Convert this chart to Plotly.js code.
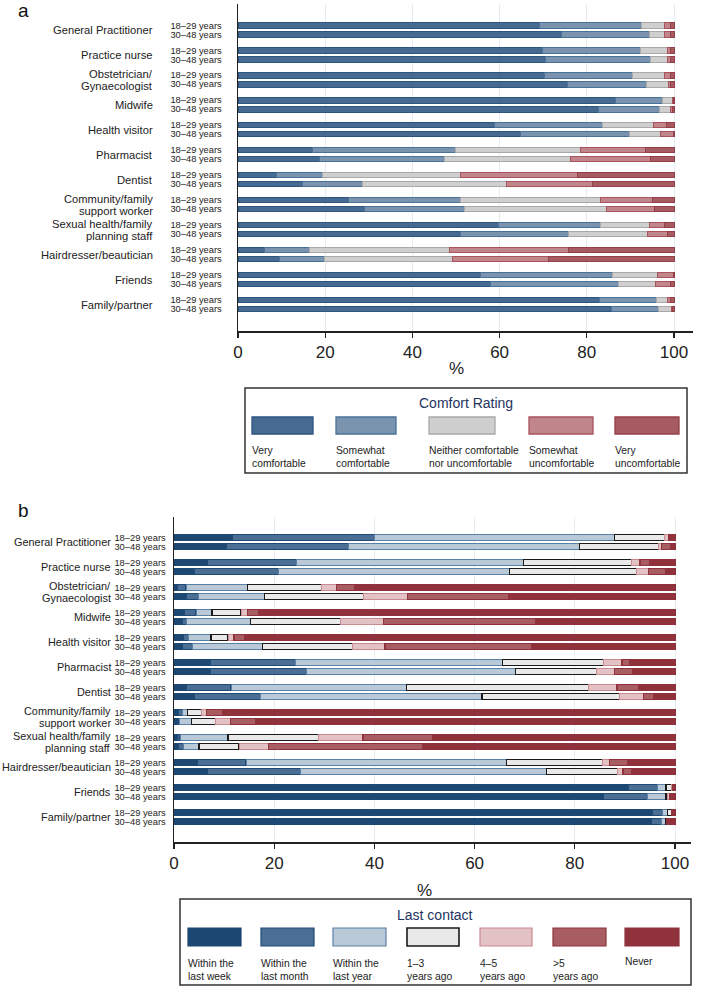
<!DOCTYPE html>
<html>
<head>
<meta charset="utf-8">
<script src="https://cdn.plot.ly/plotly-3.0.1.min.js"></script>
<style>
html,body{margin:0;padding:0;background:#fff;}
#chart{width:705px;height:986px;}
</style>
</head>
<body>
<div id="chart"></div>
<script>
// ---------------- DATA ----------------
const categories = ["General Practitioner", "Practice nurse", "Obstetrician/<br>Gynaecologist", "Midwife",
  "Health visitor", "Pharmacist", "Dentist", "Community/family<br>support worker",
  "Sexual health/family<br>planning staff", "Hairdresser/beautician", "Friends", "Family/partner"];
const ageGroups = ["18–29 years", "30–48 years"];

// Panel a: comfort rating (%), order: each category → [18–29, 30–48]
const comfortLabels = ["Very<br>comfortable", "Somewhat<br>comfortable", "Neither comfortable<br>nor uncomfortable",
  "Somewhat<br>uncomfortable", "Very<br>uncomfortable"];
const veryComfortable = [69.2,74.1, 69.9,70.6, 70.4,75.5, 86.5,82.6, 58.8,64.7, 17.1,18.6, 8.9,14.8, 25.4,29.0, 59.7,51.1, 6.0,9.5, 55.6,57.8, 82.9,85.7];
const somewhatComfortable = [23.4,20.3, 22.5,24.0, 20.0,18.1, 10.9,14.0, 24.8,25.0, 32.8,28.8, 10.4,13.8, 25.6,23.0, 23.5,24.8, 10.4,10.4, 30.2,29.5, 13.0,10.8];
const neitherComfortable = [5.2,3.5, 6.1,3.9, 7.5,5.1, 2.3,2.7, 11.8,7.1, 28.7,28.8, 31.8,33.0, 32.2,32.6, 11.1,18.0, 32.2,29.3, 10.3,8.4, 2.5,2.9];
const somewhatUncomfortable = [1.3,1.3, 0.6,0.6, 1.2,0.6, 0.2,0.4, 2.9,3.0, 14.9,18.4, 26.8,19.7, 11.8,11.0, 3.5,4.6, 27.1,22.0, 3.7,3.5, 0.8,0.2];
const veryUncomfortable = [0.9,0.8, 0.9,0.9, 0.9,0.7, 0.1,0.3, 1.7,0.2, 6.5,5.4, 22.1,18.7, 5.0,4.4, 2.2,1.5, 24.3,28.8, 0.2,0.8, 0.8,0.4];

// Panel b: last contact (%)
const contactLabels = ["Within the<br>last week", "Within the<br>last month", "Within the<br>last year",
  "1–3<br>years ago", "4–5<br>years ago", ">5<br>years ago", "Never"];
const lastWeek  = [11.7,10.4, 6.7,4.0, 0.7,2.5, 2.0,1.7, 1.9,1.7, 7.2,7.3, 2.5,4.1, 0.9,0.8, 0.7,0.9, 4.7,6.7, 90.7,85.7, 95.5,95.3];
const lastMonth = [28.3,24.5, 17.8,16.8, 1.7,2.4, 2.4,0.8, 1.0,2.0, 17.1,19.2, 8.9,13.2, 0.8,0.3, 0.5,1.0, 9.7,18.6, 5.8,8.8, 2.0,2.0];
const lastYear  = [47.9,46.0, 45.2,46.1, 12.2,13.1, 3.2,12.7, 4.5,13.9, 41.2,41.6, 35.0,44.2, 1.0,2.4, 9.6,3.1, 51.9,49.0, 1.7,3.7, 1.0,0.8];
const years1to3 = [10.1,15.8, 21.7,25.4, 14.9,19.8, 5.8,18.1, 3.4,18.1, 20.3,16.3, 36.4,27.5, 2.8,4.8, 18.0,8.0, 19.2,14.2, 1.1,0.3, 0.8,0.2];
const years4to5 = [0.8,0.6, 1.6,2.4, 3.0,8.8, 1.2,8.5, 1.2,6.4, 3.6,3.5, 5.6,4.7, 1.0,3.0, 8.9,5.8, 1.4,1.1, 0.2,0.5, 0.1,0.1];
const yearsOver5 = [0.2,1.9, 2.0,3.4, 3.6,20.1, 2.2,30.3, 2.2,29.2, 1.6,3.6, 4.3,2.0, 3.2,4.9, 13.9,30.8, 3.6,1.8, 0.1,0.3, 0.1,0.1];
const never     = [1.0,0.8, 5.0,1.9, 63.9,33.3, 83.2,27.9, 85.8,28.7, 9.0,8.5, 7.3,4.3, 90.3,83.8, 48.4,50.4, 9.5,8.6, 0.4,0.7, 0.5,1.5];

const xTicks = [0, 20, 40, 60, 80, 100];

// ---------------- STYLE ----------------
const W = 705, H = 986;
const px = x => x / W;
const py = y => 1 - y / H;
const FONT = "Liberation Sans, Arial, Helvetica, sans-serif";
const GROUP = 25, SUB = 9;

const rowY = [], rowText = [];
categories.forEach((c, g) => ageGroups.forEach((a, s) => { rowY.push(g * GROUP + s * SUB); rowText.push(a); }));

const comfortSeries = [veryComfortable, somewhatComfortable, neitherComfortable, somewhatUncomfortable, veryUncomfortable];
const comfortFill = ["#476b90", "#7a94af", "#cfcfcf", "#c1868b", "#a65b62"];
const comfortLine = ["#2c5580", "#4a7198", "#a9a9a9", "#a9535d", "#953f49"];

const contactSeries = [lastWeek, lastMonth, lastYear, years1to3, years4to5, yearsOver5, never];
const contactFill = ["#1c4873", "#4b6f94", "#b9c9d8", "#e9e9e9", "#e3c2c5", "#a85d63", "#8f323c"];
const contactLine = ["#1c4873", "#1f4a76", "#5a80a6", "#1a1a1a", "#c98a90", "#8f323c", "#8f323c"];
const contactLW   = [1, 1.3, 1, 1.3, 1, 1.3, 1];

const traces = [];
comfortSeries.forEach((vals, i) => traces.push({
  type: "bar", orientation: "h", x: vals, y: rowY, width: 5.6, xaxis: "x", yaxis: "y",
  marker: {color: comfortFill[i], line: {color: comfortLine[i], width: 1}},
  showlegend: false, hoverinfo: "skip"
}));
contactSeries.forEach((vals, i) => traces.push({
  type: "bar", orientation: "h", x: vals, y: rowY, width: 5.8, xaxis: "x2", yaxis: "y2",
  marker: {color: contactFill[i], line: {color: contactLine[i], width: contactLW[i]}},
  showlegend: false, hoverinfo: "skip"
}));

const xCommon = {
  showline: true, linecolor: "#222", linewidth: 1.5, ticks: "outside", ticklen: 5, tickwidth: 1.3,
  tickcolor: "#222", tickvals: xTicks, ticktext: xTicks.map(String), showgrid: true, gridcolor: "#e3ecf1",
  gridwidth: 1, zeroline: false, fixedrange: true, tickfont: {family: FONT, size: 17, color: "#222"}
};
const yCommon = {
  showline: true, linecolor: "#222", linewidth: 1.5, ticks: "", showgrid: false, zeroline: false,
  tickvals: rowY, ticktext: rowText, tickfont: {family: FONT, size: 9.3, color: "#222"}, fixedrange: true
};

const layout = {
  width: W, height: H, margin: {l: 0, r: 0, t: 0, b: 0}, paper_bgcolor: "#fff", plot_bgcolor: "#fff",
  barmode: "stack", bargap: 0,
  xaxis: Object.assign({}, xCommon, {domain: [px(238), px(693)], range: [0, (693 - 238) / 4.36], anchor: "y"}),
  yaxis: Object.assign({}, yCommon, {domain: [py(331), py(4)], range: [306, -21.3], anchor: "x", ticklabelstandoff: 13}),
  xaxis2: Object.assign({}, xCommon, {domain: [px(174), px(691)], range: [0, (691 - 174) / 5.01], anchor: "y2"}),
  yaxis2: Object.assign({}, yCommon, {domain: [py(842.3), py(516.7)], range: [305, -20.6], anchor: "x2", ticklabelstandoff: 5}),
  shapes: [], annotations: []
};

// category labels (two-line labels: one line per age row)
function catLabel(axisRef, xRight, size) {
  categories.forEach((c, g) => {
    const lines = c.split("<br>");
    const mid = g * GROUP + SUB / 2;
    lines.forEach((ln, k) => {
      const yy = lines.length === 1 ? mid : mid + (k === 0 ? -6 : 6);
      layout.annotations.push({xref: "paper", yref: axisRef, x: px(xRight), y: yy, text: ln, showarrow: false,
        xanchor: "right", yanchor: "middle", align: "right", font: {family: FONT, size: size, color: "#222"}});
    });
  });
}
catLabel("y", 155, 11.2);
catLabel("y2", 112.5, 10.9);

// panel letters and % titles
layout.annotations.push({xref: "paper", yref: "paper", x: px(16), y: py(10), text: "a", showarrow: false,
  xanchor: "left", yanchor: "middle", font: {family: FONT, size: 19, color: "#111"}});
layout.annotations.push({xref: "paper", yref: "paper", x: px(16), y: py(511), text: "b", showarrow: false,
  xanchor: "left", yanchor: "middle", font: {family: FONT, size: 19, color: "#111"}});
layout.annotations.push({xref: "x", yref: "paper", x: 50, y: py(368), text: "%", showarrow: false,
  yanchor: "middle", font: {family: FONT, size: 17, color: "#222"}});
layout.annotations.push({xref: "x2", yref: "paper", x: 50, y: py(890), text: "%", showarrow: false,
  yanchor: "middle", font: {family: FONT, size: 17, color: "#222"}});

// legends
function legendBox(x0, x1, y0, y1, title, titleY, swX, swY0, swY1, labels, fills, lines, lws, labY) {
  layout.shapes.push({type: "rect", xref: "paper", yref: "paper", x0: px(x0), x1: px(x1), y0: py(y0), y1: py(y1),
    line: {color: "#333", width: 1.5}, fillcolor: "rgba(0,0,0,0)"});
  layout.annotations.push({xref: "paper", yref: "paper", x: px((x0 + x1) / 2), y: py(titleY), text: title,
    showarrow: false, yanchor: "middle", font: {family: FONT, size: 14, color: "#1f3461"}});
  labels.forEach((lab, i) => {
    layout.shapes.push({type: "rect", xref: "paper", yref: "paper", x0: px(swX[i][0]), x1: px(swX[i][1]),
      y0: py(swY0), y1: py(swY1), fillcolor: fills[i], line: {color: lines[i], width: lws[i]}});
    const oneLine = lab.indexOf("<br>") < 0;
    layout.annotations.push({xref: "paper", yref: "paper", x: px(swX[i][0] - 2), y: py(labY + (oneLine ? 5.5 : 0)),
      text: lab, showarrow: false, xanchor: "left", yanchor: oneLine ? "middle" : "top", align: "left",
      font: {family: FONT, size: 10.3, color: "#222"}});
  });
}
legendBox(245, 687, 388, 473, "Comfort Rating", 403,
  [[252, 313], [336, 396], [429, 495], [529, 593], [615, 679]], 417, 434,
  comfortLabels, comfortFill, comfortLine, [1.3, 1.3, 1.3, 1.3, 1.3], 443);
legendBox(180, 691, 899, 985, "Last contact", 915,
  [[188, 241], [261, 314], [333, 386], [407, 459], [480, 532], [553, 606], [625, 679]], 928, 946,
  contactLabels, contactFill, contactLine, [1.2, 1.2, 1.2, 1.6, 1.2, 1.2, 1.2], 956);

Plotly.newPlot("chart", traces, layout, {staticPlot: true, displayModeBar: false});
</script>
</body>
</html>
